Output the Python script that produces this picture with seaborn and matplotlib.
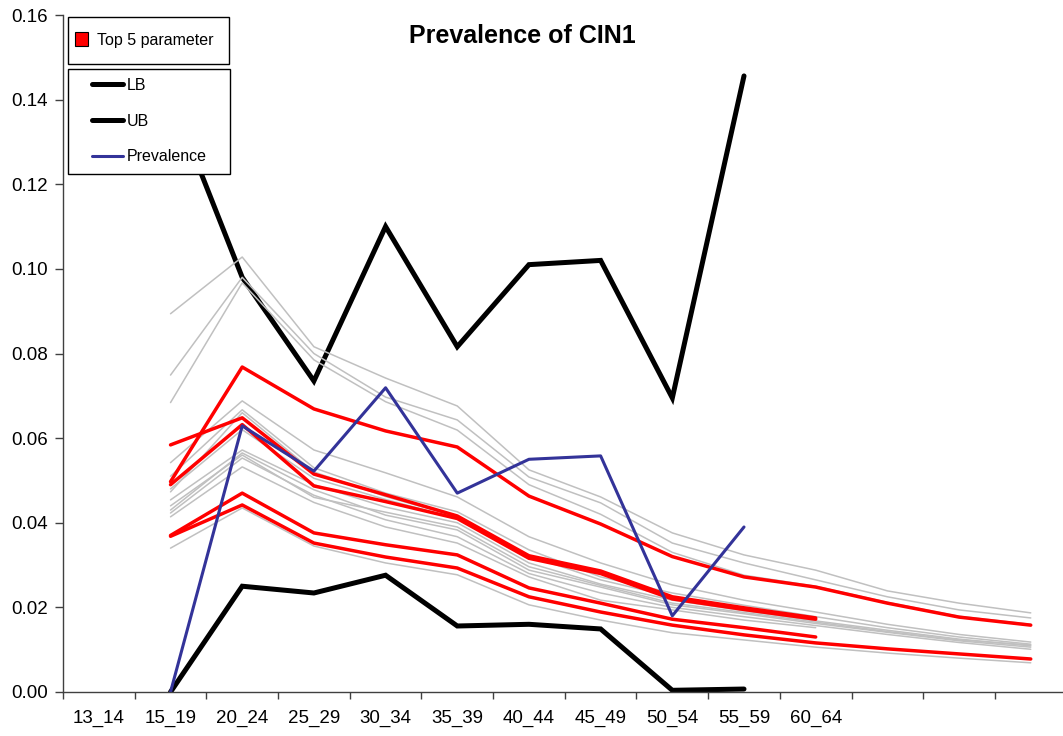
import numpy as np
import pandas as pd
import matplotlib
matplotlib.use("Agg")
import matplotlib.pyplot as plt
from matplotlib.lines import Line2D
from matplotlib.patches import Patch, Rectangle
import seaborn as sns

# Age-group categories on the x axis; the last three slots carry no label
age_groups = ["13_14", "15_19", "20_24", "25_29", "30_34", "35_39",
              "40_44", "45_49", "50_54", "55_59", "60_64"]
n_slots = 14
nan = np.nan

# Observed prevalence with lower / upper confidence bounds
prevalence = [nan, 0.0, 0.0629, 0.0522, 0.0719, 0.0470, 0.0550, 0.0558, 0.0180, 0.0390]
lower_bound = [nan, 0.0, 0.0250, 0.0234, 0.0276, 0.0156, 0.0160, 0.0149, 0.0004, 0.0007]
upper_bound = [nan, 0.1409, 0.0980, 0.0735, 0.1100, 0.0816, 0.1010, 0.1020, 0.0695, 0.1456]

# Five best-fitting parameter sets
top1 = [nan, 0.0497, 0.0768, 0.0669, 0.0617, 0.0579, 0.0463, 0.0397, 0.0320, 0.0272, 0.0248, 0.0210, 0.0177, 0.0158]
top2 = [nan, 0.0584, 0.0648, 0.0515, 0.0466, 0.0416, 0.0322, 0.0286, 0.0225, 0.0199, 0.0175]
top3 = [nan, 0.0490, 0.0632, 0.0487, 0.0450, 0.0410, 0.0316, 0.0280, 0.0220, 0.0195, 0.0172]
top4 = [nan, 0.0370, 0.0470, 0.0376, 0.0348, 0.0324, 0.0246, 0.0210, 0.0172, 0.0152, 0.0130]
top5 = [nan, 0.0368, 0.0442, 0.0352, 0.0319, 0.0293, 0.0225, 0.0189, 0.0158, 0.0135, 0.0116, 0.0102, 0.0090, 0.0078]

# Remaining parameter sets
run01 = [nan, 0.0894, 0.1028, 0.0816, 0.0742, 0.0676, 0.0525, 0.0461, 0.0376, 0.0324, 0.0288, 0.0239, 0.0210, 0.0187]
run02 = [nan, 0.0749, 0.0980, 0.0800, 0.0697, 0.0643, 0.0508, 0.0447, 0.0352, 0.0305, 0.0265, 0.0225, 0.0194, 0.0175]
run03 = [nan, 0.0684, 0.0967, 0.0785, 0.0686, 0.0619, 0.0490, 0.0420, 0.0330, 0.0276, 0.0250, 0.0212, 0.0179, 0.0160]
run04 = [nan, 0.0542, 0.0688, 0.0572, 0.0518, 0.0461, 0.0367, 0.0305, 0.0253, 0.0217, 0.0189, 0.0160, 0.0136, 0.0118]
run05 = [nan, 0.0510, 0.0667, 0.0530, 0.0470, 0.0426, 0.0336, 0.0272, 0.0234, 0.0205, 0.0178, 0.0152, 0.0130, 0.0113]
run06 = [nan, 0.0473, 0.0660, 0.0520, 0.0462, 0.0414, 0.0322, 0.0265, 0.0225, 0.0199, 0.0172]
run07 = [nan, 0.0480, 0.0620, 0.0505, 0.0455, 0.0410, 0.0318, 0.0280, 0.0222, 0.0198, 0.0174]
run08 = [nan, 0.0454, 0.0572, 0.0490, 0.0437, 0.0400, 0.0305, 0.0255, 0.0217, 0.0192, 0.0168, 0.0146, 0.0125, 0.0109]
run09 = [nan, 0.0430, 0.0565, 0.0478, 0.0418, 0.0383, 0.0288, 0.0248, 0.0206, 0.0185, 0.0162, 0.0141, 0.0121, 0.0106]
run10 = [nan, 0.0440, 0.0560, 0.0460, 0.0425, 0.0390, 0.0296, 0.0252, 0.0210, 0.0188, 0.0165, 0.0143, 0.0123, 0.0111]
run11 = [nan, 0.0423, 0.0553, 0.0465, 0.0407, 0.0367, 0.0280, 0.0234, 0.0200, 0.0178, 0.0157, 0.0136, 0.0117, 0.0101]
run12 = [nan, 0.0414, 0.0532, 0.0448, 0.0390, 0.0352, 0.0272, 0.0217, 0.0194, 0.0170, 0.0152]
run13 = [nan, 0.0340, 0.0435, 0.0345, 0.0305, 0.0277, 0.0206, 0.0170, 0.0140, 0.0123, 0.0106, 0.0092, 0.0080, 0.0069]

other_runs = [run01, run02, run03, run04, run05, run06, run07,
              run08, run09, run10, run11, run12, run13]
top_runs = [top1, top2, top3, top4, top5]


def to_long(series_list):
    frames = []
    for k, vals in enumerate(series_list):
        frames.append(pd.DataFrame({"pos": np.arange(len(vals)),
                                    "value": vals, "run": k}))
    return pd.concat(frames, ignore_index=True).dropna()


sns.set_theme(style="white")
plt.rcParams["font.family"] = ["Liberation Sans", "DejaVu Sans"]
plt.rcParams["axes.edgecolor"] = "#404040"
plt.rcParams["axes.linewidth"] = 1.0
plt.rcParams["text.color"] = "black"
plt.rcParams["xtick.color"] = "#404040"
plt.rcParams["ytick.color"] = "#404040"
plt.rcParams["xtick.labelcolor"] = "black"
plt.rcParams["ytick.labelcolor"] = "black"

W, H = 1063, 736
fig = plt.figure(figsize=(W / 100, H / 100), dpi=100)
ax = fig.add_axes([63 / W, 44 / H, 1000 / W, 677 / H])

GRAY = "#C0C0C0"
RED = "#FF0000"
BLUE = "#333399"

# confidence bounds
bounds = to_long([lower_bound, upper_bound])
sns.lineplot(data=bounds, x="pos", y="value", units="run", estimator=None,
             color="black", linewidth=3.6, legend=False, ax=ax, zorder=2,
             solid_capstyle="round", solid_joinstyle="miter")

# all parameter sets
sns.lineplot(data=to_long(other_runs), x="pos", y="value", units="run",
             estimator=None, color=GRAY, linewidth=1.1, legend=False, ax=ax,
             zorder=3)

# top five parameter sets
sns.lineplot(data=to_long(top_runs), x="pos", y="value", units="run",
             estimator=None, color=RED, linewidth=2.5, legend=False, ax=ax,
             zorder=4)

# observed prevalence
sns.lineplot(data=to_long([prevalence]), x="pos", y="value", units="run",
             estimator=None, color=BLUE, linewidth=2.2, legend=False, ax=ax,
             zorder=5)

ax.set_xlim(-0.5, 13.45)
ax.set_ylim(0, 0.16)
ax.set_xlabel("")
ax.set_ylabel("")
sns.despine(ax=ax)

# category labels centred in each slot, tick marks between slots
labels = age_groups + [""] * (n_slots - len(age_groups))
ax.set_xticks(np.arange(n_slots))
ax.set_xticklabels(labels, fontsize=13.5)
ax.set_xticks(np.arange(n_slots) - 0.5, minor=True)
ax.tick_params(axis="x", which="major", length=0, pad=13)
ax.tick_params(axis="x", which="minor", direction="out", length=5,
               width=1, bottom=True)

yt = np.arange(0, 0.161, 0.02)
ax.set_yticks(yt)
ax.set_yticklabels([f"{v:.2f}" for v in yt], fontsize=13.5)
ax.tick_params(axis="y", direction="out", length=6, width=1, pad=5, left=True)
ax.grid(False)

fig.text(522 / W, 1 - 36 / H, "Prevalence of CIN1", fontsize=18,
         fontweight="bold", ha="center", va="center", color="black")

# legend boxes
box1 = Rectangle((68 / W, 1 - 64 / H), 161 / W, 47 / H, transform=fig.transFigure,
                 facecolor="white", edgecolor="black", linewidth=1.0, zorder=10)
box2 = Rectangle((68 / W, 1 - 174 / H), 162 / W, 105 / H, transform=fig.transFigure,
                 facecolor="white", edgecolor="black", linewidth=1.0, zorder=10)
fig.add_artist(box1)
fig.add_artist(box2)

leg1 = fig.legend(handles=[Patch(facecolor=RED, edgecolor="black", linewidth=0.8)],
                  labels=["Top 5 parameter"], loc="center left",
                  bbox_to_anchor=(75 / W, 1 - 40 / H), bbox_transform=fig.transFigure,
                  frameon=False, fontsize=11.5, borderpad=0, borderaxespad=0,
                  handlelength=0.8, handleheight=0.95, handletextpad=0.55)
leg1.set_zorder(11)

leg2 = fig.legend(handles=[Line2D([], [], color="black", linewidth=3.6, solid_capstyle="round"),
                           Line2D([], [], color="black", linewidth=3.6, solid_capstyle="round"),
                           Line2D([], [], color=BLUE, linewidth=2.2)],
                  labels=["LB", "UB", "Prevalence"], loc="center left",
                  bbox_to_anchor=(92 / W, 1 - 121 / H), bbox_transform=fig.transFigure,
                  frameon=False, fontsize=11.5, borderpad=0, borderaxespad=0,
                  handlelength=1.95, handletextpad=0.25, labelspacing=1.3)
leg2.set_zorder(11)

fig.savefig("out.png", dpi=100)
